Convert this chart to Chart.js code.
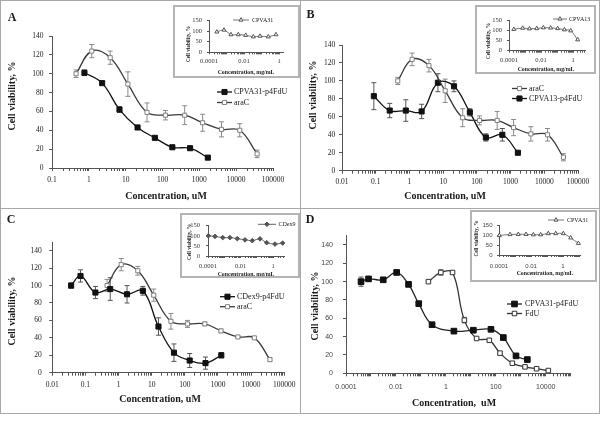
<!DOCTYPE html>
<html lang="en">
<head>
<meta charset="UTF-8">
<title>Cell viability</title>
<script src="https://cdnjs.cloudflare.com/ajax/libs/Chart.js/4.4.0/chart.umd.min.js"></script>
<style>
  body { margin: 0; background: #fff; }
  #page { position: relative; width: 602px; height: 421px; overflow: hidden; background: #fff; }
  canvas { position: absolute; }
  .frame { position: absolute; border: 1px solid #a8a8a8; box-sizing: border-box; }
  .inset { position: absolute; border: 2px solid #b4b4b4; box-sizing: border-box; background: #fff; }
</style>
</head>
<body>
<div id="page"></div>

<script>
// ---- axis ticks ----
var yTicksMain = [0, 20, 40, 60, 80, 100, 120, 140];
var yTicksInset = [0, 50, 100, 150];
var xTicksA = [0.1, 1, 10, 100, 1000, 10000, 100000];
var xLabelsA = ['0.1', '1', '10', '100', '1000', '10000', '100000'];
var xTicksBC = [0.01, 0.1, 1, 10, 100, 1000, 10000, 100000];
var xLabelsBC = ['0.01', '0.1', '1', '10', '100', '1000', '10000', '100000'];
var xTicksD = [0.0001, 0.01, 1, 100, 10000];
var xLabelsD = ['0.0001', '0.01', '1', '100', '10000'];
var xTicksInset = [0.0001, 0.01, 1];
var xLabelsInset = ['0.0001', '0.01', '1'];

// ---- araC (panels A, B, C) ----
var araCConc = [0.45, 1.2, 3.8, 11.5, 38, 120, 400, 1230, 4000, 12500, 37000];
var araCViab = [100, 124, 117, 89, 59, 56, 56, 48, 41, 40, 15];
var araCErr = [4, 7, 7, 13, 10, 5, 10, 9, 8, 7, 4];
var araCErrC = [7, 7, 5, 7, 9, 4, 2, 2, 1, 1, 2];

// ---- panel A: CPVA31-p4FdU ----
var cpva31Conc = [0.76, 2.3, 6.8, 21, 62, 185, 560, 1700];
var cpva31Viab = [101, 90, 62, 43, 32, 22, 21, 11];
var cpva31Err = [3, 2, 3, 2, 2, 1, 1, 1];

// ---- panel B: CPVA13-p4FdU ----
var cpva13Conc = [0.088, 0.26, 0.78, 2.3, 7.0, 21, 62, 185, 570, 1650];
var cpva13Viab = [83, 67, 67, 66, 98, 94, 65, 37, 40, 20];
var cpva13Err = [15, 8, 12, 8, 10, 6, 4, 4, 7, 1];

// ---- panel C: CDex9-p4FdU ----
var cdex9Conc = [0.037, 0.071, 0.2, 0.56, 1.8, 5.4, 16, 47, 140, 420, 1260];
var cdex9Viab = [100, 111, 92, 96, 90, 94, 53, 23, 14, 11, 20];
var cdex9Err = [3, 7, 7, 13, 10, 5, 10, 10, 8, 7, 3];

// ---- panel D: CPVA31-p4FdU and FdU ----
var dCpvaConc = [0.0004, 0.0008, 0.0031, 0.0107, 0.032, 0.082, 0.28, 2.1, 12.6, 64, 200, 645, 1830];
var dCpvaViab = [100, 103, 102, 110, 97, 76, 53, 46, 47, 48, 39, 19, 15];
var dCpvaErr = [5, 2, 2, 1, 2, 1, 1, 1, 1, 1, 1, 1, 1];
var fduConc = [0.2, 0.63, 1.85, 5.5, 17, 55, 147, 460, 1480, 4300, 12700];
var fduViab = [100, 110, 110, 58, 38, 36, 22, 11, 7, 5, 3];
var fduErr = [1, 3, 1, 3, 1, 1, 1, 1, 1, 1, 1];

// ---- insets (carrier alone, mg/mL) ----
var insetAConc = [0.00028, 0.00072, 0.0018, 0.0047, 0.0125, 0.034, 0.082, 0.245, 0.67];
var insetAViab = [97, 106, 84, 84, 81, 74, 77, 74, 84];
var insetBConc = [0.0002, 0.00072, 0.0019, 0.0054, 0.014, 0.04, 0.11, 0.29, 0.72, 1.96];
var insetBViab = [107, 113, 110, 111, 115, 114, 111, 105, 100, 55];
var insetCConc = [0.000105, 0.00027, 0.0008, 0.0022, 0.0063, 0.0186, 0.052, 0.155, 0.4, 1.29, 3.8];
var insetCViab = [100, 97, 91, 91, 86, 80, 76, 85, 66, 59, 64];
var insetDConc = [0.000105, 0.00049, 0.0016, 0.0049, 0.014, 0.04, 0.12, 0.35, 1.05, 3, 9.1];
var insetDViab = [100, 105, 106, 106, 104, 104, 110, 110, 110, 88, 60];

var SERIF = 'Liberation Serif';
var SANS = 'Liberation Sans';
var axisColor = '#555';
var page = document.getElementById('page');

function addDiv(cls, r) {
    var d = document.createElement('div');
    d.className = cls;
    d.style.left = r.x + 'px'; d.style.top = r.y + 'px';
    d.style.width = r.w + 'px'; d.style.height = r.h + 'px';
    page.appendChild(d);
    return d;
}

function addCanvas(r) {
    var cv = document.createElement('canvas');
    cv.width = r.w; cv.height = r.h;
    cv.style.left = r.x + 'px'; cv.style.top = r.y + 'px';
    cv.style.width = r.w + 'px'; cv.style.height = r.h + 'px';
    page.appendChild(cv);
    return cv;
}

function logTicks(min, max) {
    var out = [];
    for (var e = Math.floor(Math.log10(min)); e <= Math.ceil(Math.log10(max)); e++) {
        for (var m = 1; m <= 9; m++) {
            var v = m * Math.pow(10, e);
            if (v >= min * 0.999 && v <= max * 1.001) out.push(v);
        }
    }
    return out;
}

function majorLabel(v, ticks, labels) {
    for (var i = 0; i < ticks.length; i++) {
        if (Math.abs(Math.log10(v / ticks[i])) < 1e-6) return labels[i];
    }
    return '';
}

function drawMarker(ctx, style, r, x, y) {
    ctx.beginPath();
    if (style === 'rect') {
        var s = r * Math.SQRT1_2;
        ctx.rect(x - s, y - s, 2 * s, 2 * s);
    } else if (style === 'triangle') {
        ctx.moveTo(x, y - r);
        ctx.lineTo(x + r * 0.866, y + r / 2);
        ctx.lineTo(x - r * 0.866, y + r / 2);
        ctx.closePath();
    } else {
        ctx.moveTo(x, y - r); ctx.lineTo(x + r, y);
        ctx.lineTo(x, y + r); ctx.lineTo(x - r, y);
        ctx.closePath();
    }
    ctx.fill();
    ctx.stroke();
}

// error bars from the scales
var errorBars = {
    id: 'errorBars',
    beforeDatasetsDraw: function (chart) {
        var ctx = chart.ctx, xs = chart.scales.x, ys = chart.scales.y;
        ctx.save();
        chart.data.datasets.forEach(function (ds) {
            if (!ds.errors) return;
            ctx.strokeStyle = ds.errorColor;
            ctx.lineWidth = 1;
            ds.data.forEach(function (pt, i) {
                var e = ds.errors[i];
                if (!e) return;
                var x = xs.getPixelForValue(pt.x);
                var y1 = ys.getPixelForValue(pt.y - e), y2 = ys.getPixelForValue(pt.y + e);
                ctx.beginPath();
                ctx.moveTo(x, y1); ctx.lineTo(x, y2);
                ctx.moveTo(x - 2.5, y1); ctx.lineTo(x + 2.5, y1);
                ctx.moveTo(x - 2.5, y2); ctx.lineTo(x + 2.5, y2);
                ctx.stroke();
            });
        });
        ctx.restore();
    }
};

// titles, panel letters and legends placed in page coordinates
var panelText = {
    id: 'panelText',
    afterDraw: function (chart) {
        var ex = chart.canvas._extras;
        if (!ex) return;
        var ctx = chart.ctx, o = ex.origin;
        (ex.texts || []).forEach(function (t) {
            ctx.save();
            ctx.font = t.font;
            ctx.fillStyle = t.color || '#1a1a1a';
            ctx.textAlign = 'center';
            ctx.textBaseline = 'middle';
            ctx.translate(t.x - o.x, t.y - o.y);
            if (t.rot) ctx.rotate(-Math.PI / 2);
            ctx.fillText(t.text, 0, 0);
            ctx.restore();
        });
        (ex.legend || []).forEach(function (L) {
            var ds = chart.data.datasets[L.ds];
            var y = L.y - o.y;
            ctx.save();
            ctx.strokeStyle = ds.borderColor;
            ctx.lineWidth = ds.borderWidth;
            ctx.beginPath();
            ctx.moveTo(L.x1 - o.x, y); ctx.lineTo(L.x2 - o.x, y);
            ctx.stroke();
            ctx.fillStyle = ds.pointBackgroundColor;
            ctx.strokeStyle = ds.pointBorderColor;
            ctx.lineWidth = 1;
            drawMarker(ctx, ds.pointStyle, ds.pointRadius, (L.x1 + L.x2) / 2 - o.x, y);
            ctx.fillStyle = '#1a1a1a';
            ctx.font = L.font;
            ctx.textAlign = 'left';
            ctx.textBaseline = 'middle';
            ctx.fillText(ds.label, L.tx - o.x, y);
            ctx.restore();
        });
    }
};

function series(label, xs, ys, errs, s) {
    return {
        label: label,
        data: xs.map(function (v, i) { return { x: v, y: ys[i] }; }),
        errors: errs,
        errorColor: s.errColor || '#666',
        borderColor: s.line,
        borderWidth: s.lw || 1.3,
        tension: s.tension || 0.4,
        fill: false,
        clip: false,
        pointStyle: s.marker,
        pointRadius: s.r,
        pointHoverRadius: s.r,
        pointBackgroundColor: s.fill,
        pointBorderColor: s.edge,
        pointBorderWidth: 1
    };
}

function makeChart(r, p, datasets, xo, yo, extras) {
    var cv = addCanvas(r);
    extras.origin = r;
    cv._extras = extras;
    return new Chart(cv, {
        type: 'line',
        data: { datasets: datasets },
        options: {
            responsive: false,
            animation: false,
            devicePixelRatio: 1,
            events: [],
            layout: { padding: { left: 0, top: p.t - r.y, right: r.x + r.w - p.r, bottom: 0 } },
            plugins: { legend: { display: false }, tooltip: { enabled: false } },
            scales: {
                x: {
                    type: 'logarithmic',
                    min: xo.min, max: xo.max,
                    afterFit: function (s) { s.height = r.y + r.h - p.b; },
                    afterBuildTicks: function (s) {
                        s.ticks = logTicks(xo.min, xo.max).map(function (v) { return { value: v }; });
                    },
                    ticks: {
                        autoSkip: false, maxRotation: 0, minRotation: 0,
                        padding: xo.pad, color: xo.color, font: xo.font,
                        callback: function (v) { return majorLabel(v, xo.ticks, xo.labels); }
                    },
                    grid: { drawOnChartArea: false, drawTicks: true, tickLength: xo.tl, color: axisColor, lineWidth: 1 },
                    border: { display: true, color: axisColor, width: 1 }
                },
                y: {
                    type: 'linear',
                    min: 0, max: yo.max,
                    afterFit: function (s) { s.width = p.l - r.x; },
                    afterBuildTicks: function (s) {
                        s.ticks = yo.ticks.map(function (v) { return { value: v }; });
                    },
                    ticks: {
                        autoSkip: false, padding: yo.pad, color: xo.color, font: xo.font,
                        callback: function (v) { return String(v); }
                    },
                    grid: { drawOnChartArea: false, drawTicks: true, tickLength: xo.tl, color: axisColor, lineWidth: 1 },
                    border: { display: true, color: axisColor, width: 1 }
                }
            }
        },
        plugins: [errorBars, panelText]
    });
}

var filled = { line: '#111', fill: '#111', edge: '#111', marker: 'rect', r: 3.6, errColor: '#555' };
var openGray = { line: '#3a3a3a', fill: '#fff', edge: '#808080', marker: 'rect', r: 2.9, errColor: '#8a8a8a' };
var titleFont = 'bold 10px "' + SERIF + '"';
var letterFont = 'bold 12px "' + SERIF + '"';
var legendFont = '8px "' + SERIF + '"';
var tickSerif = { family: SERIF, size: 7.5 };
var tickSans = { family: SANS, size: 7 };

// ---------- panel A ----------
makeChart({ x: 0, y: 0, w: 300, h: 208 }, { l: 52, r: 273, t: 36, b: 168 }, [
    series('CPVA31-p4FdU', cpva31Conc, cpva31Viab, cpva31Err, filled),
    series('araC', araCConc, araCViab, araCErr, openGray)
], { min: 0.1, max: 100000, ticks: xTicksA, labels: xLabelsA, pad: 5, tl: 3, font: tickSerif, color: '#222' },
   { max: 140, ticks: yTicksMain, pad: 5.4 }, {
    texts: [
        { text: 'A', x: 12, y: 18, font: letterFont },
        { text: 'Cell viability, %', x: 12, y: 96, font: titleFont, rot: true },
        { text: 'Concentration, uM', x: 166, y: 196, font: titleFont }
    ],
    legend: [
        { ds: 0, x1: 217, x2: 232, tx: 234, y: 92 },
        { ds: 1, x1: 217, x2: 232, tx: 234, y: 102.5 }
    ].map(function (l) { l.font = legendFont; return l; })
});

// ---------- panel B ----------
makeChart({ x: 300, y: 0, w: 300, h: 208 }, { l: 342, r: 578, t: 45, b: 170.7 }, [
    series('araC', araCConc, araCViab, araCErr, openGray),
    series('CPVA13-p4FdU', cpva13Conc, cpva13Viab, cpva13Err, filled)
], { min: 0.01, max: 100000, ticks: xTicksBC, labels: xLabelsBC, pad: 4, tl: 3, font: tickSerif, color: '#222' },
   { max: 140, ticks: yTicksMain, pad: 3.7 }, {
    texts: [
        { text: 'B', x: 310.5, y: 15, font: letterFont },
        { text: 'Cell viability, %', x: 313, y: 95, font: titleFont, rot: true },
        { text: 'Concentration, uM', x: 445, y: 196.7, font: titleFont }
    ],
    legend: [
        { ds: 0, x1: 512, x2: 527, tx: 529, y: 88.5 },
        { ds: 1, x1: 512, x2: 527, tx: 529, y: 98.5 }
    ].map(function (l) { l.font = legendFont; return l; })
});

// ---------- panel C ----------
makeChart({ x: 0, y: 208, w: 300, h: 205 }, { l: 52.3, r: 285.5, t: 242, b: 372.7 }, [
    series('CDex9-p4FdU', cdex9Conc, cdex9Viab, cdex9Err, filled),
    series('araC', araCConc, araCViab, araCErrC, openGray)
], { min: 0.01, max: 100000, ticks: xTicksBC, labels: xLabelsBC, pad: 4.5, tl: 3, font: tickSerif, color: '#222' },
   { max: 150, ticks: yTicksMain, pad: 7.6 }, {
    texts: [
        { text: 'C', x: 11, y: 220, font: letterFont },
        { text: 'Cell viability, %', x: 12, y: 311, font: titleFont, rot: true },
        { text: 'Concentration, uM', x: 160, y: 399.3, font: titleFont }
    ],
    legend: [
        { ds: 0, x1: 220, x2: 235, tx: 237, y: 296.7 },
        { ds: 1, x1: 220, x2: 235, tx: 237, y: 306.7 }
    ].map(function (l) { l.font = legendFont; return l; })
});

// ---------- panel D ----------
makeChart({ x: 300, y: 208, w: 300, h: 205 }, { l: 346, r: 570.7, t: 235.8, b: 373.3 }, [
    series('CPVA31-p4FdU', dCpvaConc, dCpvaViab, dCpvaErr, Object.assign({}, filled, { line: '#222', r: 4 })),
    series('FdU', fduConc, fduViab, fduErr, { line: '#333', fill: '#fff', edge: '#333', marker: 'rect', r: 3.2, errColor: '#666' })
], { min: 0.0001, max: 100000, ticks: xTicksD, labels: xLabelsD, pad: 6.5, tl: 3, font: tickSans, color: '#444' },
   { max: 150, ticks: yTicksMain, pad: 10 }, {
    texts: [
        { text: 'D', x: 310, y: 220, font: letterFont },
        { text: 'Cell viability, %', x: 315, y: 306, font: titleFont, rot: true },
        { text: 'Concentration,  uM', x: 454, y: 403.3, font: titleFont }
    ],
    legend: [
        { ds: 0, x1: 507, x2: 522, tx: 525, y: 304 },
        { ds: 1, x1: 507, x2: 522, tx: 525, y: 313.5 }
    ].map(function (l) { l.font = legendFont; return l; })
});

// ---------- insets ----------
var insetTitle = 'bold 5.8px "' + SERIF + '"';
var insetYTitle = 'bold 5.2px "' + SERIF + '"';
var insetLegend = '6px "' + SERIF + '"';
var insetTickSerif = { family: SERIF, size: 6.5 };
var insetTickSans = { family: SANS, size: 6 };
var triOpen = { line: '#666', fill: '#fff', edge: '#555', marker: 'triangle', r: 2.3, lw: 0.9, tension: 0.3 };

function makeInset(box, p, ds, xMax, tickFont, tickColor, padX, padY, titles, leg) {
    addDiv('inset', box);
    var r = { x: box.x + 2, y: box.y + 2, w: box.w - 4, h: box.h - 4 };
    makeChart(r, p, [ds],
        { min: 0.0001, max: xMax, ticks: xTicksInset, labels: xLabelsInset, pad: padX, tl: 2, font: tickFont, color: tickColor },
        { max: 150, ticks: yTicksInset, pad: padY }, {
        texts: [
            { text: 'Cell viability, %', x: titles.yx, y: titles.yy, font: insetYTitle, rot: true },
            { text: 'Concentration, mg/mL', x: titles.xx, y: titles.xy, font: insetTitle }
        ],
        legend: [{ ds: 0, x1: leg.x1, x2: leg.x2, tx: leg.tx, y: leg.y, font: insetLegend }]
    });
}

makeInset({ x: 173, y: 5, w: 127, h: 73 }, { l: 209, r: 283, t: 20.7, b: 52.3 },
    series('CPVA31', insetAConc, insetAViab, null, triOpen), 1.69, insetTickSerif, '#333', 3.5, 5,
    { yx: 189, yy: 44, xx: 246, xy: 73 }, { x1: 233, x2: 249, tx: 252, y: 20 });

makeInset({ x: 475, y: 5, w: 121, h: 69 }, { l: 509, r: 585, t: 20.7, b: 50.7 },
    series('CPVA13', insetBConc, insetBViab, null, triOpen), 5.6, insetTickSerif, '#333', 4, 5,
    { yx: 488.5, yy: 41, xx: 546, xy: 69.3 }, { x1: 553, x2: 567, tx: 569, y: 19 });

makeInset({ x: 180, y: 213, w: 120, h: 65 }, { l: 208, r: 284, t: 225.7, b: 256 },
    series('CDex9', insetCConc, insetCViab, null,
        { line: '#555', fill: '#555', edge: '#555', marker: 'rectRot', r: 2.3, lw: 0.9, tension: 0.3 }),
    4.6, insetTickSerif, '#333', 4.5, 6,
    { yx: 190, yy: 242, xx: 246, xy: 275 }, { x1: 258, x2: 276, tx: 278.5, y: 224.3 });

makeInset({ x: 470, y: 210, w: 127, h: 72 }, { l: 499, r: 580, t: 225.7, b: 255 },
    series('CPVA31', insetDConc, insetDViab, null, triOpen), 11.5, insetTickSans, '#444', 5.5, 4.5,
    { yx: 477, yy: 238.5, xx: 545, xy: 274 }, { x1: 548, x2: 564, tx: 567, y: 220 });

// panel frames on top
addDiv('frame', { x: 0, y: 0, w: 301, h: 209 });
addDiv('frame', { x: 300, y: 0, w: 300, h: 209 });
addDiv('frame', { x: 0, y: 208, w: 301, h: 206 });
addDiv('frame', { x: 300, y: 208, w: 300, h: 206 });
</script>
</body>
</html>
